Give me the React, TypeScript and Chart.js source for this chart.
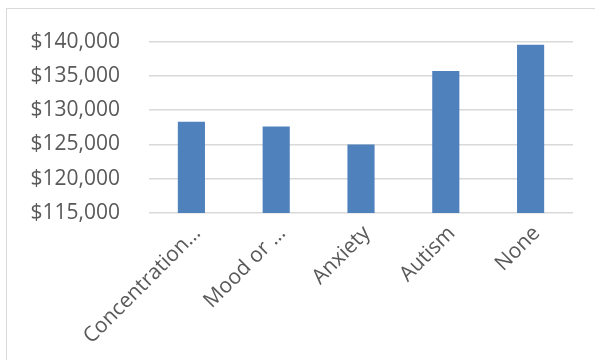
import React, { useEffect, useRef } from "react";
import { Chart, registerables } from "chart.js";

Chart.register(...registerables);

const categories = ["Concentration…", "Mood or …", "Anxiety", "Autism", "None"];
const salaries = [128300, 127600, 125000, 135700, 139550];
const yMin = 115000;
const yMax = 140000;
const yStep = 5000;

const TEXT = "#595959";
const GRID = "#d9d9d9";
const BAR = "#4f81bd";
const FONT = "'Open Sans', sans-serif";

export default function App() {
  const ref = useRef<HTMLCanvasElement | null>(null);

  useEffect(() => {
    if (!ref.current) return;
    const chart = new Chart(ref.current, {
      type: "bar",
      data: {
        labels: categories,
        datasets: [
          {
            data: salaries,
            backgroundColor: BAR,
            borderWidth: 0,
            barPercentage: 0.32,
            categoryPercentage: 1,
          },
        ],
      },
      options: {
        animation: false,
        responsive: false,
        maintainAspectRatio: false,
        layout: { padding: { top: 38, right: 22, left: 0, bottom: 0 } },
        plugins: { legend: { display: false }, tooltip: { enabled: false } },
        scales: {
          x: {
            grid: { display: false, drawTicks: false },
            border: { display: false },
            ticks: {
              color: TEXT,
              font: { family: FONT, size: 21 },
              maxRotation: 45,
              minRotation: 45,
              padding: 8,
              labelOffset: 6,
              autoSkip: false,
            },
            afterFit: (s: any) => {
              s.height = 147;
            },
          },
          y: {
            min: yMin,
            max: yMax,
            grid: { color: GRID, lineWidth: 1.5, drawTicks: false },
            border: { display: false },
            ticks: {
              stepSize: yStep,
              color: TEXT,
              font: { family: FONT, size: 21 },
              padding: 29,
              callback: (v: any) => "$" + Number(v).toLocaleString("en-US"),
            },
            afterFit: (s: any) => {
              s.width = 149;
            },
          },
        },
      },
    });
    return () => chart.destroy();
  }, []);

  return (
    <div
      style={{
        position: "absolute",
        left: 0,
        top: 0,
        width: 595,
        height: 360,
        overflow: "hidden",
        background: "#fff",
      }}
    >
      <div
        style={{
          position: "absolute",
          left: 6,
          top: 8,
          width: 800,
          height: 600,
          border: "1px solid #d9d9d9",
        }}
      />
      <canvas
        ref={ref}
        width={595}
        height={360}
        style={{ position: "absolute", left: 0, top: 0, width: 595, height: 360 }}
      />
    </div>
  );
}
